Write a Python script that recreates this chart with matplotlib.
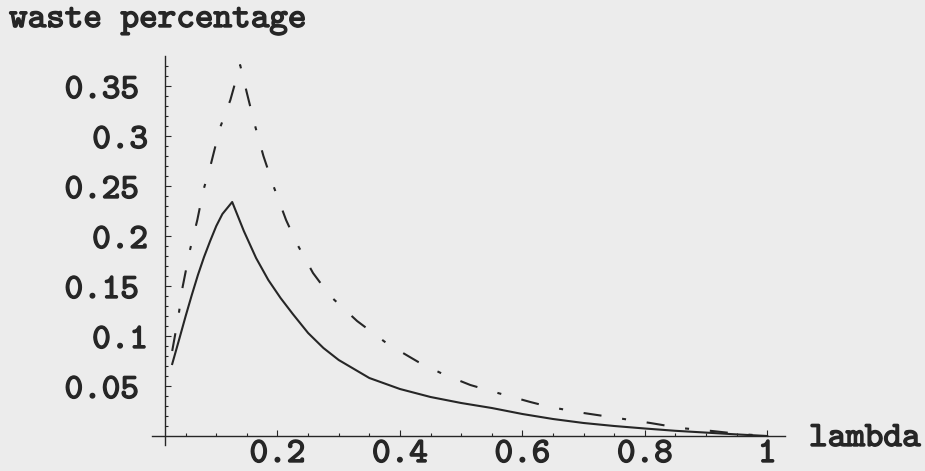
import matplotlib
matplotlib.use("Agg")
import matplotlib.pyplot as plt
import matplotlib.patheffects as pe
from matplotlib.ticker import FixedLocator

# solid curve
solid_x = [0.028, 0.04, 0.05, 0.06, 0.07, 0.08, 0.09, 0.10, 0.11, 0.126,
           0.145, 0.165, 0.185, 0.205, 0.225, 0.25, 0.275, 0.30, 0.35, 0.40,
           0.45, 0.50, 0.55, 0.60, 0.65, 0.70, 0.75, 0.80, 0.85, 0.90, 0.95, 1.0]
solid_y = [0.072, 0.098, 0.120, 0.141, 0.161, 0.179, 0.195, 0.210, 0.222, 0.234,
           0.205, 0.178, 0.156, 0.138, 0.122, 0.103, 0.088, 0.076, 0.058, 0.047,
           0.039, 0.033, 0.028, 0.022, 0.017, 0.013, 0.010, 0.0075, 0.0052, 0.0034, 0.0016, 0.0]

# dash-dot curve
dash_x = [0.028, 0.038, 0.045, 0.057, 0.069, 0.079, 0.090, 0.106, 0.123, 0.139,
          0.150, 0.163, 0.177, 0.194, 0.214, 0.232, 0.258, 0.286, 0.33, 0.38,
          0.43, 0.47, 0.515, 0.56, 0.613, 0.645, 0.70, 0.755, 0.809, 0.858, 0.91, 0.955, 1.0]
dash_y = [0.085, 0.119, 0.149, 0.186, 0.216, 0.246, 0.269, 0.308, 0.336, 0.371,
          0.343, 0.311, 0.280, 0.249, 0.216, 0.192, 0.163, 0.140, 0.115, 0.092,
          0.074, 0.062, 0.051, 0.043, 0.034, 0.029, 0.023, 0.018, 0.013, 0.008, 0.005, 0.002, 0.0]

xticks = [0.2, 0.4, 0.6, 0.8, 1.0]
xtick_labels = ["0.2", "0.4", "0.6", "0.8", "1"]
yticks = [0.05, 0.1, 0.15, 0.2, 0.25, 0.3, 0.35]
ytick_labels = ["0.05", "0.1", "0.15", "0.2", "0.25", "0.3", "0.35"]

BG = "#ececec"
INK = "#262626"
FONT = dict(family=["cmtt10", "DejaVu Sans Mono"], size=25.5, color=INK,
            path_effects=[pe.withStroke(linewidth=1.0, foreground=INK)])
plt.rcParams["lines.scale_dashes"] = False

W, H = 925, 471
fig = plt.figure(figsize=(W / 100, H / 100), dpi=100, facecolor=BG)
ax = fig.add_axes([152 / W, 1 - 445 / H, (785 - 152) / W, (445 - 56) / H])
ax.set_facecolor(BG)

x_origin = 0.0163
ax.set_xlim(-0.005, 1.029)
ax.set_ylim(-0.009, 0.38)

ax.plot(solid_x, solid_y, color=INK, lw=1.5, solid_joinstyle="round")
ax.plot(dash_x, dash_y, color=INK, lw=1.5, dashes=(13, 15, 2.9, 15),
        dash_capstyle="butt")

for s in ("top", "right"):
    ax.spines[s].set_visible(False)
ax.spines["left"].set_position(("data", x_origin))
ax.spines["bottom"].set_position(("data", 0))
for s in ("left", "bottom"):
    ax.spines[s].set_color(INK)
    ax.spines[s].set_linewidth(1.0)

ax.xaxis.set_major_locator(FixedLocator(xticks))
ax.xaxis.set_minor_locator(FixedLocator([0.05 * i for i in range(1, 21)]))
ax.yaxis.set_major_locator(FixedLocator(yticks))
ax.yaxis.set_minor_locator(FixedLocator([0.01 * i for i in range(1, 38)]))
ax.tick_params(which="both", direction="in", color=INK, width=0.8,
               labelleft=False, labelbottom=False)
ax.tick_params(which="major", length=4)
ax.tick_params(which="minor", length=2)

for v, s in zip(yticks, ytick_labels):
    dx = -26 if len(s) > 3 else -17
    ax.annotate(s, xy=(x_origin, v), xycoords="data", xytext=(dx, -12),
                textcoords="offset pixels", ha="right", va="baseline", **FONT)
for v, s in zip(xticks, xtick_labels):
    ax.annotate(s, xy=(v, 0), xycoords="data", xytext=(0, -34),
                textcoords="offset pixels", ha="center", va="bottom", **FONT)

fig.text(9 / W, 1 - 27 / H, "waste percentage", ha="left", va="baseline", **FONT)
fig.text(809 / W, 1 - 446 / H, "lambda", ha="left", va="baseline", **FONT)

fig.savefig("out.png", dpi=100, facecolor=BG)
